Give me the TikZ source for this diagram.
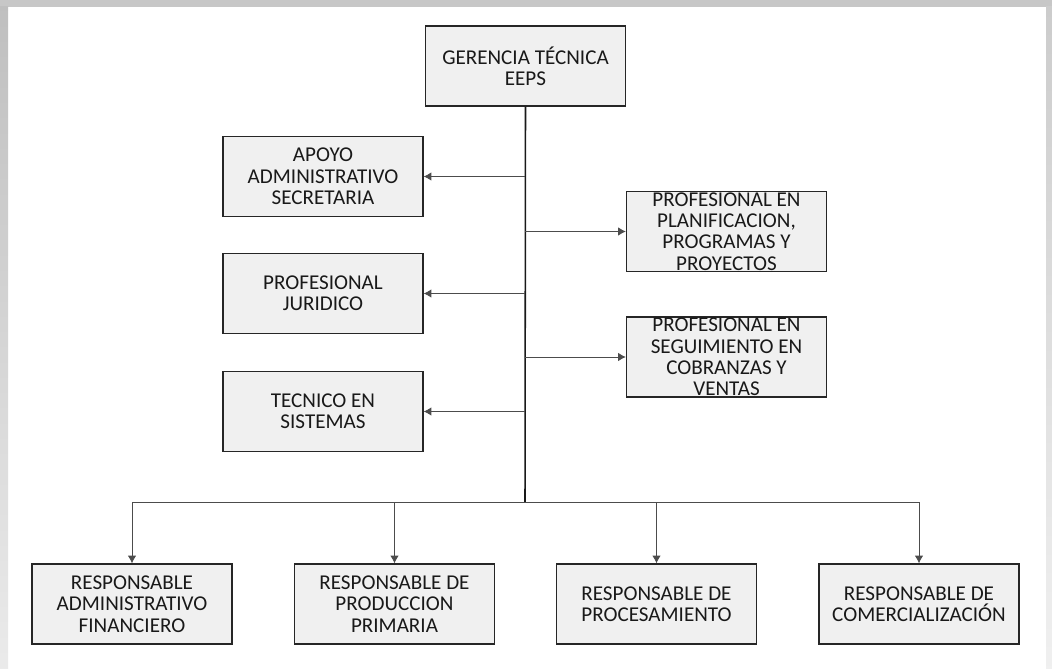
\documentclass[tikz,border=0pt]{standalone}
\usepackage{fontspec}
\setmainfont{Carlito}
\usetikzlibrary{arrows.meta}

\begin{document}
\begin{tikzpicture}[x=0.025cm, y=-0.025cm,
	caja/.style={draw=black!85, line width=0.9pt, fill=black!6, minimum width=5.0cm, minimum height=2.0cm, align=center, inner xsep=2pt, inner ysep=0pt, text=black!90, font=\fontsize{15}{15.2}\selectfont},
	linea/.style={draw=black!70, line width=0.6pt},
	flecha/.style={linea, -{Latex[length=5.5pt,width=6pt]}}]
\def \colizq {323}
\def \colder {726.5}
\def \filaabajo {604}
\def \bus {502}

%frame
\useasboundingbox (0,0) rectangle (1052,669);
\fill[white] (0,0) rectangle (1052,669);
\shade[top color=black!22, bottom color=black!22] (0,0) rectangle (1052,7);
\shade[top color=black!25, bottom color=black!8] (0,7) rectangle (8,669);
\shade[top color=black!20, bottom color=black!6] (1046,7) rectangle (1052,669);

%Gerencia
\node[caja] (gerencia) at (525.5,66) {GERENCIA TÉCNICA\\EEPS};

%Left column
\node[caja] (apoyo) at (\colizq,176.5) {APOYO\\ADMINISTRATIVO\\SECRETARIA};
\node[caja] (juridico) at (\colizq,293.5) {PROFESIONAL\\JURIDICO};
\node[caja] (tecnico) at (\colizq,411.5) {TECNICO EN\\SISTEMAS};

%Right column
\node[caja] (planif) at (\colder,231.5) {PROFESIONAL EN\\PLANIFICACION,\\PROGRAMAS Y\\PROYECTOS};
\node[caja] (seguim) at (\colder,357) {PROFESIONAL EN\\SEGUIMIENTO EN\\COBRANZAS Y\\VENTAS};

%Bottom row
\node[caja] (admfin) at (132,\filaabajo) {RESPONSABLE\\ADMINISTRATIVO\\FINANCIERO};
\node[caja] (prodprim) at (394.5,\filaabajo) {RESPONSABLE DE\\PRODUCCION\\PRIMARIA};
\node[caja] (proces) at (656.5,\filaabajo) {RESPONSABLE DE\\PROCESAMIENTO};
\node[caja] (comerc) at (919,\filaabajo) {RESPONSABLE DE\\COMERCIALIZACIÓN};

%Trunk
\coordinate (tronco) at (525,\bus);
\draw[black!90, line width=1.1pt] (gerencia.south) -- (tronco);

%Side arrows
\draw[flecha] (tronco |- apoyo.east) -- (apoyo.east);
\draw[flecha] (tronco |- juridico.east) -- (juridico.east);
\draw[flecha] (tronco |- tecnico.east) -- (tecnico.east);
\draw[flecha] (tronco |- planif.west) -- (planif.west);
\draw[flecha] (tronco |- seguim.west) -- (seguim.west);

%Bus to bottom row
\draw[linea] (admfin.north |- tronco) -- (comerc.north |- tronco);
\draw[flecha] (admfin.north |- tronco) -- (admfin.north);
\draw[flecha] (prodprim.north |- tronco) -- (prodprim.north);
\draw[flecha] (proces.north |- tronco) -- (proces.north);
\draw[flecha] (comerc.north |- tronco) -- (comerc.north);

\end{tikzpicture}
\end{document}
